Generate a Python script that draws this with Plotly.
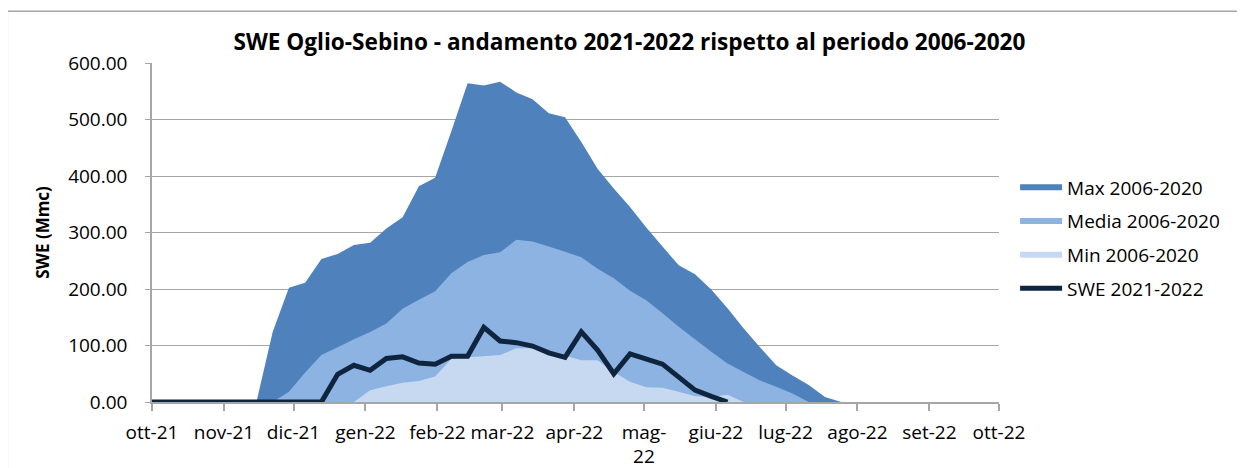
import plotly.graph_objects as go

dates = [
    "2021-10-01", "2021-10-04", "2021-10-11", "2021-10-18", "2021-10-25",
    "2021-11-01", "2021-11-08", "2021-11-15", "2021-11-22", "2021-11-29",
    "2021-12-06", "2021-12-13", "2021-12-20", "2021-12-27",
    "2022-01-03", "2022-01-10", "2022-01-17", "2022-01-24", "2022-01-31",
    "2022-02-07", "2022-02-14", "2022-02-21", "2022-02-28",
    "2022-03-07", "2022-03-14", "2022-03-21", "2022-03-28",
    "2022-04-04", "2022-04-11", "2022-04-18", "2022-04-25",
    "2022-05-02", "2022-05-09", "2022-05-16", "2022-05-23", "2022-05-30",
    "2022-06-06", "2022-06-13", "2022-06-20", "2022-06-27",
    "2022-07-04", "2022-07-11", "2022-07-18", "2022-07-25",
]

max_2006_2020 = [0, 0, 0, 0, 0, 0, 0, 0, 124, 202, 211, 253, 262, 278, 282, 307, 327, 382,
                 397, 479, 564, 560, 567, 548, 536, 511, 504, 460, 413, 378, 345, 309, 275,
                 242, 226, 199, 166, 130, 97, 65, 47, 30, 9, 0]
media_2006_2020 = [0, 0, 0, 0, 0, 0, 0, 0, 0, 18, 52, 83, 97, 111, 124, 139, 165, 181,
                   196, 228, 248, 260, 265, 287, 284, 275, 266, 256, 236, 219, 197, 180, 157,
                   133, 111, 89, 68, 53, 38, 27, 15, 0, 0, 0]
min_2006_2020 = [0, 0, 0, 0, 0, 0, 0, 0, 0, 0, 0, 0, 0, 0, 21, 28, 34, 37,
                 45, 76, 79, 81, 83, 95, 95, 89, 82, 74, 74, 53, 36, 26, 25,
                 18, 10, 9, 13, 0, 0, 0, 0, 0, 0, 0]
swe_2021_2022 = [0, 0, 0, 0, 0, 0, 0, 0, 0, 0, 0, 0, 49, 65, 56, 77, 80, 69,
                 67, 81, 81, 132, 108, 105, 99, 87, 79, 124, 92, 50, 85, 76, 67,
                 44, 21, 10, 0, None, None, None, None, None, None, None]

tick_dates = ["2021-10-01", "2021-11-01", "2021-12-01", "2022-01-01", "2022-02-01",
              "2022-03-01", "2022-04-01", "2022-05-01", "2022-06-01", "2022-07-01",
              "2022-08-01", "2022-09-01", "2022-10-01"]
tick_labels = ["ott-21", "nov-21", "dic-21", "gen-22", "feb-22", "mar-22", "apr-22",
               "mag-<br>22", "giu-22", "lug-22", "ago-22", "set-22", "ott-22"]

FONT = "Open Sans"
GRID = "#A6A6A6"

fig = go.Figure()
fig.add_trace(go.Scatter(x=dates, y=max_2006_2020, name="Max 2006-2020", mode="none",
                         fill="tozeroy", fillcolor="#4F81BD", legendgroup="a"))
fig.add_trace(go.Scatter(x=dates, y=media_2006_2020, name="Media 2006-2020", mode="none",
                         fill="tozeroy", fillcolor="#8DB3E2", legendgroup="b"))
fig.add_trace(go.Scatter(x=dates, y=min_2006_2020, name="Min 2006-2020", mode="none",
                         fill="tozeroy", fillcolor="#C6D9F1", legendgroup="c"))
fig.add_trace(go.Scatter(x=dates, y=swe_2021_2022, name="SWE 2021-2022", mode="lines",
                         line=dict(color="#0F243E", width=5), legendgroup="d"))

# the page body adds an 8px offset, so margins are shifted by 8px
fig.update_layout(
    width=1237, height=468,
    margin=dict(l=144, r=246, t=55, b=74, autoexpand=False),
    paper_bgcolor="white", plot_bgcolor="white",
    font=dict(family=FONT, size=19, color="#000000"),
    title=dict(text="<b>SWE Oglio-Sebino - andamento 2021-2022 rispetto al periodo 2006-2020</b>",
               x=0.5024, xanchor="center", y=1 - 34 / 468, yanchor="middle",
               font=dict(family=FONT, size=22.6, color="#000000")),
    showlegend=True,
    legend=dict(x=1.019, xanchor="left", y=0.484, yanchor="middle",
                font=dict(family=FONT, size=19, color="#000000"),
                tracegroupgap=6, itemwidth=42, bgcolor="rgba(0,0,0,0)",
                traceorder="grouped"),
    xaxis=dict(type="date", range=["2021-10-01", "2022-10-01"],
               tickvals=tick_dates, ticktext=tick_labels, tickangle=0,
               showgrid=False, showline=True, linecolor=GRID, linewidth=1.5,
               ticks="outside", ticklen=7, tickcolor=GRID, tickwidth=1.5,
               ticklabelstandoff=5, zeroline=False, fixedrange=True, automargin=False),
    yaxis=dict(range=[0, 600], tickvals=[0, 100, 200, 300, 400, 500, 600],
               tickformat=".2f", showgrid=True, gridcolor=GRID, gridwidth=1.2,
               showline=True, linecolor=GRID, linewidth=1.5,
               ticks="outside", ticklen=5, tickcolor=GRID, tickwidth=1.2,
               ticklabelstandoff=14, zeroline=False, automargin=False,
               title=dict(text="<b>SWE (Mmc)</b>", standoff=14,
                          font=dict(family=FONT, size=17, color="#000000"))),
    shapes=[dict(type="rect", xref="paper", yref="paper",
                 x0=-0.1708, x1=1.2825, y0=-0.35, y1=1.1525,
                 line=dict(color="#A6A6A6", width=1.5), fillcolor="rgba(0,0,0,0)",
                 layer="below")],
)

fig.write_html("out.html")
